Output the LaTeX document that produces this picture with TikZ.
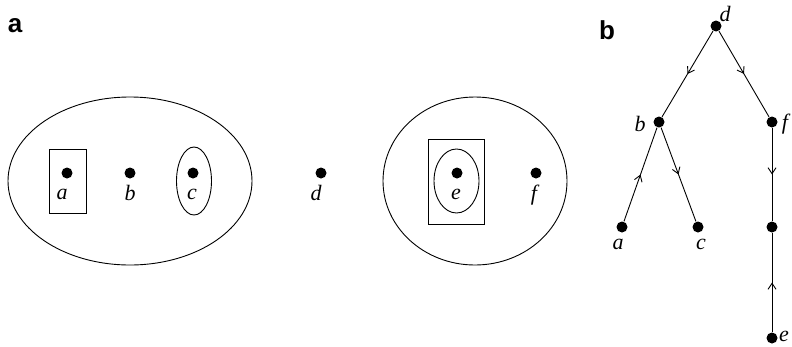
\documentclass[tikz,border=0pt]{standalone}
\usepackage{fontspec}
\setmainfont{Liberation Serif}
\setsansfont{Liberation Sans}
\usetikzlibrary{arrows.meta,decorations.markings}
\begin{document}
\begin{tikzpicture}[x=1pt,y=-1pt, line width=0.9pt,
  dot/.style={circle,fill=black,inner sep=0pt,minimum size=11pt},
  lab/.style={font=\fontsize{22}{22}\selectfont\itshape, inner sep=0pt},
  panel/.style={font=\fontsize{26}{26}\selectfont\sffamily\bfseries, inner sep=0pt},
  midarrow/.style={postaction={decorate},decoration={markings,mark=at position 0.5 with {\arrow{Straight Barb[length=6pt,width=8pt,line width=0.9pt]}}}}]
\useasboundingbox (0,0) rectangle (792,346);
% panel labels
\node[panel] (pa) at (15,26) {a};
\node[panel] (pb) at (607,30) {b};
% panel a
\draw (130,181) ellipse [x radius=122pt, y radius=84pt];
\draw (475,181) ellipse [x radius=92pt, y radius=84pt];
\draw (49,149) rectangle (86,213);
\draw (194,181) ellipse [x radius=17.5pt, y radius=34pt];
\draw (428,139) rectangle (484,224);
\draw (456.5,181) ellipse [x radius=22.5pt, y radius=32pt];
\node[dot] (A1) at (67,173) {};
\node[dot] (B1) at (130,173) {};
\node[dot] (C1) at (193,173) {};
\node[dot] (D1) at (321,173) {};
\node[dot] (E1) at (457,173) {};
\node[dot] (F1) at (536,173) {};
\node[lab] (la1) at (62,194) {a};
\node[lab] (lb1) at (130,193) {b};
\node[lab] (lc1) at (192,194) {c};
\node[lab] (ld1) at (316,193) {d};
\node[lab] (le1) at (456,194) {e};
\node[lab] (lf1) at (534,195) {f};
% panel b
\node[dot] (d) at (716,26) {};
\node[dot] (b) at (659,122) {};
\node[dot] (f) at (772,122) {};
\node[dot] (a) at (622,227) {};
\node[dot] (c) at (698,227) {};
\node[dot] (m) at (772,227) {};
\node[dot] (e) at (772,338) {};
\draw[midarrow] (d) -- (b);
\draw[midarrow] (d) -- (f);
\draw[midarrow] (a) -- (b);
\draw[midarrow] (b) -- (c);
\draw[midarrow] (f) -- (m);
\draw[midarrow] (e) -- (m);
\node[lab] (ld) at (725,14) {d};
\node[lab] (lb) at (640,124) {b};
\node[lab] (lf) at (785,124) {f};
\node[lab] (la) at (618,244) {a};
\node[lab] (lc) at (701,244) {c};
\node[lab] (le) at (784,336) {e};
\end{tikzpicture}
\end{document}
